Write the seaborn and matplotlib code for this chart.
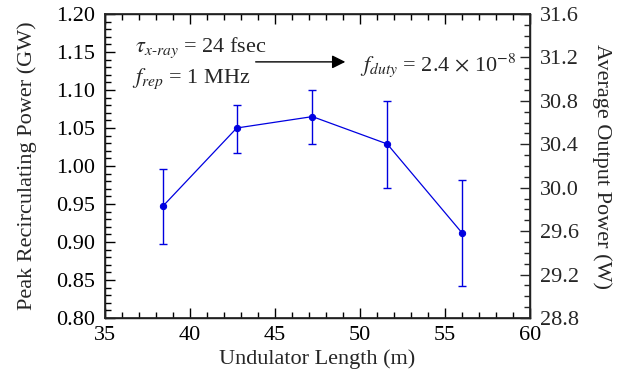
import matplotlib
matplotlib.use("Agg")
import matplotlib.pyplot as plt
import seaborn as sns
import pandas as pd
import numpy as np
from matplotlib.ticker import MultipleLocator

undulator_length = [38.4, 42.75, 47.2, 51.6, 56.0]
peak_power = [0.947, 1.050, 1.065, 1.029, 0.912]
err_upper = [0.996, 1.080, 1.100, 1.085, 0.981]
err_lower = [0.897, 1.0175, 1.029, 0.9706, 0.842]

sns.set_theme(style="ticks")
plt.rcParams['font.family'] = ['Liberation Serif', 'DejaVu Serif']
plt.rcParams['mathtext.fontset'] = 'stix'

df = pd.DataFrame({"x": undulator_length, "y": peak_power})
color = "#0000e0"
FS = 16

fig = plt.figure(figsize=(6.23, 3.75), dpi=100)
ax = fig.add_axes([105/623, 1-318/375, 425/623, 304/375])

yerr = np.array([np.array(peak_power) - np.array(err_lower),
                 np.array(err_upper) - np.array(peak_power)])
ax.errorbar(undulator_length, peak_power, yerr=yerr, fmt='none', ecolor=color,
            elinewidth=1.0, capsize=2.6, capthick=1.0)
sns.lineplot(data=df, x="x", y="y", ax=ax, color=color, marker='o', markersize=4.5,
             markeredgecolor=color, linewidth=0.9)

ax.set_xlim(35, 60)
ax.set_ylim(0.80, 1.20)
ax.xaxis.set_major_locator(MultipleLocator(5))
ax.xaxis.set_minor_locator(MultipleLocator(1))
ax.yaxis.set_major_locator(MultipleLocator(0.05))
ax.yaxis.set_minor_locator(MultipleLocator(0.01))
ax.yaxis.set_major_formatter(matplotlib.ticker.FormatStrFormatter('%.2f'))
ax.tick_params(axis='both', which='both', direction='in', labelsize=FS, colors='black')
ax.tick_params(axis='x', which='both', top=True, pad=6)
ax.tick_params(axis='y', which='both', pad=7)
ax.tick_params(which='major', length=7, width=1)
ax.tick_params(which='minor', length=4, width=1)
ax.set_xlabel("Undulator Length (m)", fontsize=FS, labelpad=3)
ax.set_ylabel("Peak Recirculating Power (GW)", fontsize=FS, labelpad=14)
for s in ax.spines.values():
    s.set_linewidth(1.0)
    s.set_color('black')

ax2 = ax.twinx()
ax2.set_ylim(28.8, 31.6)
ax2.yaxis.set_major_locator(MultipleLocator(0.4))
ax2.yaxis.set_minor_locator(MultipleLocator(0.1))
ax2.yaxis.set_major_formatter(matplotlib.ticker.FormatStrFormatter('%.1f'))
ax2.tick_params(axis='y', which='both', direction='in', labelsize=FS, pad=7)
ax2.tick_params(which='major', length=7, width=1)
ax2.tick_params(which='minor', length=4, width=1)
ax2.set_ylabel("Average Output Power (W)", fontsize=FS, rotation=270, labelpad=24)
ax.tick_params(axis='y', which='both', right=False)

ax.text(36.76, 1.150, r'$\tau_{x\text{-}ray}$ = 24 fsec', fontsize=FS, ha='left', va='baseline')
ax.text(36.6, 1.109, r'$f_{rep}$ = 1 MHz', fontsize=FS, ha='left', va='baseline')
ax.annotate('', xy=(49.3, 1.137), xytext=(43.7, 1.137),
            arrowprops=dict(arrowstyle='-|>', color='black', lw=1.0, mutation_scale=20))
ax.text(50.0, 1.125, r'$f_{duty}$ = 2.4 $\times$ 10$^{-8}$', fontsize=FS, ha='left', va='baseline')

fig.savefig("out.png", dpi=100)
